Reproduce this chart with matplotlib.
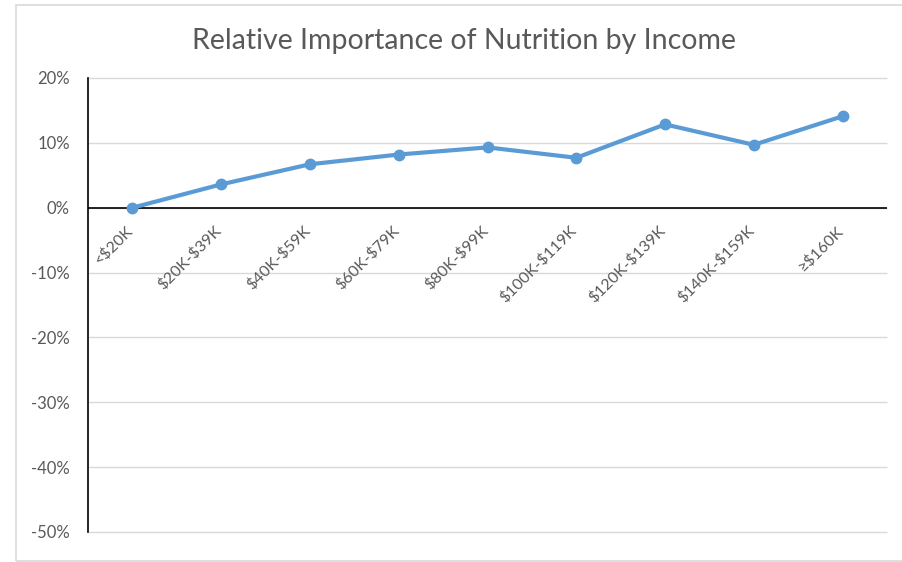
import matplotlib.pyplot as plt
from matplotlib.patches import Rectangle
from matplotlib.ticker import FuncFormatter

# доход по группам и относительная важность питания
income_groups = ["<$20K", "$20K-$39K", "$40K-$59K", "$60K-$79K", "$80K-$99K",
                 "$100K-$119K", "$120K-$139K", "$140K-$159K", "≥$160K"]
importance = [0.0, 3.6, 6.7, 8.2, 9.3, 7.7, 12.85, 9.7, 14.1]
y_ticks = [-50, -40, -30, -20, -10, 0, 10, 20]

plt.rcParams['font.family'] = ['Lato', 'DejaVu Sans']

fig = plt.figure(figsize=(9.02, 5.62), dpi=100)
ax = fig.add_axes([88 / 902, 1 - 532 / 562, (887 - 88) / 902, (532 - 78) / 562])

# рамка области диаграммы
fig.patches.append(Rectangle((16 / 902, 1 - 561 / 562), 1.0, (561 - 5) / 562,
                             transform=fig.transFigure, fill=False,
                             edgecolor='#d9d9d9', linewidth=1.2))

x = list(range(len(income_groups)))
ax.plot(x, importance, color='#5B9BD5', linewidth=3, marker='o',
        markersize=7.5, zorder=5, clip_on=False)

ax.set_xlim(-0.5, len(income_groups) - 0.5)
ax.set_ylim(-50, 20)
ax.set_yticks(y_ticks)
ax.yaxis.set_major_formatter(FuncFormatter(lambda v, p: f"{v:.0f}%"))
ax.hlines(y_ticks, -0.5, len(income_groups) - 0.5, color='#d9d9d9',
          linewidth=1, zorder=1, clip_on=False)
ax.axhline(0, color='black', linewidth=1.2, zorder=3)

for side in ['top', 'right', 'bottom']:
    ax.spines[side].set_visible(False)
ax.spines['left'].set_color('black')
ax.spines['left'].set_linewidth(1.2)
ax.spines['left'].set_zorder(4)

ax.tick_params(axis='y', length=0, pad=13, labelsize=12, labelcolor='#595959')
ax.set_xticks([])

# подписи категорий под нулевой линией
for xi, name in zip(x, income_groups):
    ax.text(xi - 0.08, -2.4, name, rotation=45, ha='right', va='top',
            rotation_mode='anchor', fontsize=11.5, color='#595959',
            parse_math=False)

fig.text(464 / 902, 1 - 41 / 562, "Relative Importance of Nutrition by Income",
         ha='center', va='center', fontsize=20.5, color='#595959')

fig.savefig("out.png", dpi=100)
